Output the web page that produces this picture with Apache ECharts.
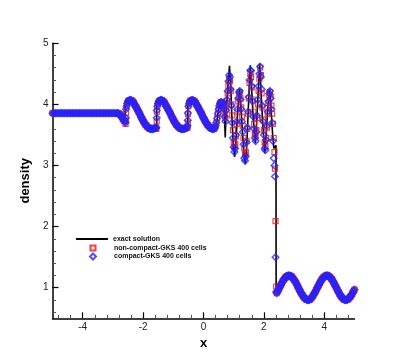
<!DOCTYPE html>
<html lang="en">
<head>
    <meta charset="UTF-8">
    <title>density</title>
    <script src="https://cdn.jsdelivr.net/npm/echarts@6/dist/echarts.min.js"></script>
    <style>
        html, body { margin: 0; padding: 0; background: #fff; }
        #main { width: 403px; height: 358px; }
    </style>
</head>
<body>
<div id="main"></div>
<script>
    // tick positions
    var xMajor = [-4, -2, 0, 2, 4];
    var xMinor = [-4.8, -4.4, -3.6, -3.2, -2.8, -2.4, -1.6, -1.2, -0.8, -0.4, 0.4, 0.8, 1.2, 1.6, 2.4, 2.8, 3.2, 3.6, 4.4, 4.8];
    var yMajor = [1, 2, 3, 4, 5];
    var yMinor = [0.6, 0.8, 1.2, 1.4, 1.6, 1.8, 2.2, 2.4, 2.6, 2.8, 3.2, 3.4, 3.6, 3.8, 4.2, 4.4, 4.6, 4.8];

    // smooth cells, the two schemes look the same here
    var bandConst = [
        [-5, 3.857], [-4.95, 3.857], [-4.9, 3.857], [-4.85, 3.857], [-4.8, 3.857], [-4.75, 3.857], [-4.7, 3.857], [-4.65, 3.857],
        [-4.6, 3.857], [-4.55, 3.857], [-4.5, 3.857], [-4.45, 3.857], [-4.4, 3.857], [-4.35, 3.857], [-4.3, 3.857], [-4.25, 3.857],
        [-4.2, 3.857], [-4.15, 3.857], [-4.1, 3.857], [-4.05, 3.857], [-4, 3.857], [-3.95, 3.857], [-3.9, 3.857], [-3.85, 3.857],
        [-3.8, 3.857], [-3.75, 3.857], [-3.7, 3.857], [-3.65, 3.857], [-3.6, 3.857], [-3.55, 3.857], [-3.5, 3.857], [-3.45, 3.857],
        [-3.4, 3.857], [-3.35, 3.857], [-3.3, 3.857], [-3.25, 3.857], [-3.2, 3.857], [-3.15, 3.857], [-3.1, 3.857], [-3.05, 3.857],
        [-3, 3.857], [-2.95, 3.857], [-2.9, 3.857], [-2.85, 3.857],
        [-2.825, 3.855], [-2.8, 3.85], [-2.775, 3.84], [-2.75, 3.83], [-2.725, 3.81], [-2.7, 3.79], [-2.675, 3.77], [-2.65, 3.75],
        [-2.625, 3.73], [-2.6, 3.72]
    ];
    var waveA = [
        [-2.55, 3.97], [-2.525, 4.02], [-2.5, 4.05], [-2.475, 4.06], [-2.45, 4.07], [-2.425, 4.07], [-2.4, 4.07], [-2.375, 4.06],
        [-2.35, 4.05], [-2.325, 4.04], [-2.3, 4.02], [-2.275, 3.99], [-2.25, 3.97], [-2.225, 3.95], [-2.2, 3.93], [-2.175, 3.9],
        [-2.15, 3.88], [-2.125, 3.86], [-2.1, 3.83], [-2.075, 3.8], [-2.05, 3.78], [-2.025, 3.76], [-2, 3.73], [-1.975, 3.71],
        [-1.95, 3.69], [-1.925, 3.67], [-1.9, 3.66], [-1.875, 3.64], [-1.85, 3.63], [-1.825, 3.62], [-1.8, 3.61], [-1.775, 3.6],
        [-1.75, 3.6], [-1.725, 3.6], [-1.7, 3.6], [-1.675, 3.6], [-1.65, 3.6], [-1.625, 3.61], [-1.6, 3.61], [-1.575, 3.62]
    ];
    var waveB = [
        [-1.53, 3.97], [-1.505, 4.02], [-1.48, 4.05], [-1.455, 4.06], [-1.43, 4.07], [-1.405, 4.07], [-1.38, 4.07], [-1.355, 4.06],
        [-1.33, 4.05], [-1.305, 4.04], [-1.28, 4.02], [-1.255, 3.99], [-1.23, 3.97], [-1.205, 3.95], [-1.18, 3.93], [-1.155, 3.9],
        [-1.13, 3.88], [-1.105, 3.86], [-1.08, 3.83], [-1.055, 3.8], [-1.03, 3.78], [-1.005, 3.76], [-0.98, 3.73], [-0.955, 3.71],
        [-0.93, 3.69], [-0.905, 3.67], [-0.88, 3.66], [-0.855, 3.64], [-0.83, 3.63], [-0.805, 3.62], [-0.78, 3.61], [-0.755, 3.6],
        [-0.73, 3.6], [-0.705, 3.6], [-0.68, 3.6], [-0.655, 3.6], [-0.63, 3.6], [-0.605, 3.61], [-0.58, 3.61], [-0.555, 3.62]
    ];
    var waveC = [
        [-0.5, 3.97], [-0.475, 4.02], [-0.45, 4.05], [-0.425, 4.06], [-0.4, 4.07], [-0.375, 4.07], [-0.35, 4.07], [-0.325, 4.06],
        [-0.3, 4.05], [-0.275, 4.04], [-0.25, 4.02], [-0.225, 3.99], [-0.2, 3.97], [-0.175, 3.95], [-0.15, 3.93], [-0.125, 3.9],
        [-0.1, 3.88], [-0.075, 3.86], [-0.05, 3.83], [-0.025, 3.8], [0, 3.78], [0.025, 3.76], [0.05, 3.73], [0.075, 3.71],
        [0.1, 3.69], [0.125, 3.67], [0.15, 3.66], [0.175, 3.64], [0.2, 3.63], [0.225, 3.62], [0.25, 3.61], [0.275, 3.6],
        [0.3, 3.6], [0.325, 3.6], [0.35, 3.6], [0.375, 3.62], [0.4, 3.65], [0.425, 3.7], [0.45, 3.77], [0.475, 3.85],
        [0.5, 3.92], [0.525, 3.98], [0.55, 4.02], [0.575, 4.04]
    ];

    // smooth part behind the shock
    var bandRight = [
        [2.425, 0.91], [2.45, 0.94], [2.475, 0.96], [2.5, 0.99], [2.525, 1.01], [2.55, 1.04], [2.575, 1.06], [2.6, 1.08],
        [2.625, 1.11], [2.65, 1.13], [2.675, 1.14], [2.7, 1.16], [2.725, 1.17], [2.75, 1.19], [2.775, 1.19], [2.8, 1.2],
        [2.825, 1.2], [2.85, 1.2], [2.875, 1.19], [2.9, 1.19], [2.925, 1.18], [2.95, 1.16], [2.975, 1.15], [3, 1.13],
        [3.025, 1.11], [3.05, 1.09], [3.075, 1.07], [3.1, 1.04], [3.125, 1.02], [3.15, 0.99], [3.175, 0.97], [3.2, 0.94],
        [3.225, 0.92], [3.25, 0.9], [3.275, 0.88], [3.3, 0.86], [3.325, 0.84], [3.35, 0.83], [3.375, 0.82], [3.4, 0.81],
        [3.425, 0.8], [3.45, 0.8], [3.475, 0.8], [3.5, 0.8], [3.525, 0.81], [3.55, 0.82], [3.575, 0.83], [3.6, 0.85],
        [3.625, 0.87], [3.65, 0.89], [3.675, 0.91], [3.7, 0.93], [3.725, 0.96], [3.75, 0.98], [3.775, 1.01], [3.8, 1.03],
        [3.825, 1.05], [3.85, 1.08], [3.875, 1.1], [3.9, 1.12], [3.925, 1.14], [3.95, 1.16], [3.975, 1.17], [4, 1.18],
        [4.025, 1.19], [4.05, 1.2], [4.075, 1.2], [4.1, 1.2], [4.125, 1.2], [4.15, 1.19], [4.175, 1.18], [4.2, 1.17],
        [4.225, 1.15], [4.25, 1.14], [4.275, 1.12], [4.3, 1.09], [4.325, 1.07], [4.35, 1.05], [4.375, 1.02], [4.4, 1],
        [4.425, 0.97], [4.45, 0.95], [4.475, 0.93], [4.5, 0.9], [4.525, 0.88], [4.55, 0.86], [4.575, 0.85], [4.6, 0.83],
        [4.625, 0.82], [4.65, 0.81], [4.675, 0.8], [4.7, 0.8], [4.725, 0.8], [4.75, 0.8], [4.775, 0.81], [4.8, 0.82],
        [4.825, 0.83], [4.85, 0.85], [4.875, 0.86], [4.9, 0.88], [4.925, 0.9], [4.95, 0.93], [4.975, 0.95], [5, 0.97]
    ];

    // exact solution
    var exactLeft = [
        [-5, 3.857], [-2.82, 3.857], [-2.75, 3.83], [-2.68, 3.77], [-2.62, 3.72], [-2.57, 3.7], [-2.57, 4.03], [-2.52, 4.06],
        [-2.42, 4.07], [-2.32, 4.03], [-2.17, 3.92], [-2.02, 3.8], [-1.87, 3.68], [-1.75, 3.61], [-1.62, 3.59], [-1.55, 3.59],
        [-1.55, 4.03], [-1.5, 4.06], [-1.4, 4.07], [-1.3, 4.03], [-1.15, 3.92], [-1, 3.8], [-0.85, 3.68], [-0.73, 3.61],
        [-0.6, 3.59], [-0.52, 3.59], [-0.52, 4.03], [-0.47, 4.06], [-0.37, 4.07], [-0.27, 4.03], [-0.12, 3.92], [0.03, 3.8],
        [0.18, 3.68], [0.3, 3.61], [0.39, 3.6], [0.45, 3.75], [0.5, 3.92], [0.55, 4.03]
    ];
    var exactOsc = [
        [0.58, 4.04], [0.64, 4.02], [0.68, 3.96], [0.7, 3.75], [0.72, 3.46], [0.74, 3.75], [0.77, 4.02], [0.81, 4.3],
        [0.86, 4.63], [0.9, 4.3], [0.94, 3.8], [0.98, 3.4], [1.03, 3.14], [1.07, 3.35], [1.12, 3.8], [1.19, 4.26],
        [1.24, 3.95], [1.29, 3.55], [1.34, 3.2], [1.39, 3.02], [1.44, 3.4], [1.49, 4], [1.55, 4.64], [1.6, 4.2],
        [1.65, 3.75], [1.72, 3.37], [1.76, 3.7], [1.81, 4.2], [1.86, 4.67], [1.91, 4.15], [1.96, 3.7], [2.03, 3.2],
        [2.08, 3.55], [2.13, 3.95], [2.19, 4.26], [2.24, 3.9], [2.29, 3.5], [2.33, 3.28], [2.37, 3.3], [2.4, 3.33],
        [2.405, 0.93]
    ];

    // non-compact GKS, cells at the jumps and in the oscillating zone
    var nonCompactJumps = [
        [-2.58, 3.68], [-2.57, 3.74], [-2.565, 3.86], [-1.56, 3.6], [-1.55, 3.72], [-1.545, 3.88],
        [-0.53, 3.62], [-0.52, 3.7], [-0.515, 3.84]
    ];
    var nonCompactOsc = [
        [0.6, 4.02], [0.625, 4.03], [0.65, 3.99], [0.675, 3.95], [0.7, 3.85], [0.725, 3.78], [0.75, 3.92], [0.775, 4.05],
        [0.8, 4.18], [0.825, 4.3], [0.85, 4.4], [0.875, 4.38], [0.9, 4.22], [0.925, 4], [0.95, 3.82], [0.975, 3.58],
        [1, 3.38], [1.025, 3.3], [1.05, 3.35], [1.075, 3.48], [1.1, 3.68], [1.125, 3.88], [1.15, 4.05], [1.175, 4.15],
        [1.2, 4.2], [1.225, 4.1], [1.25, 3.95], [1.275, 3.8], [1.3, 3.65], [1.325, 3.45], [1.35, 3.28], [1.375, 3.18],
        [1.4, 3.22], [1.425, 3.4], [1.45, 3.6], [1.475, 3.85], [1.5, 4.1], [1.525, 4.35], [1.55, 4.5], [1.575, 4.45],
        [1.6, 4.28], [1.625, 4.08], [1.65, 3.88], [1.675, 3.68], [1.7, 3.52], [1.725, 3.48], [1.75, 3.58], [1.775, 3.78],
        [1.8, 4], [1.825, 4.22], [1.85, 4.42], [1.875, 4.6], [1.9, 4.48], [1.925, 4.18], [1.95, 3.95], [1.975, 3.75],
        [2, 3.58], [2.025, 3.38], [2.05, 3.32], [2.075, 3.45], [2.1, 3.62], [2.125, 3.85], [2.15, 4.02], [2.175, 4.15],
        [2.2, 4.2], [2.225, 4.12], [2.25, 3.98], [2.275, 3.85], [2.3, 3.68], [2.325, 3.45], [2.35, 3.22], [2.365, 2.95],
        [2.385, 2.09], [2.405, 1.02]
    ];

    // compact GKS
    var compactJumps = [
        [-2.58, 3.7], [-2.57, 3.78], [-2.565, 3.92], [-1.56, 3.62], [-1.55, 3.78], [-1.545, 3.9],
        [-0.53, 3.65], [-0.52, 3.74], [-0.515, 3.86]
    ];
    var compactOsc = [
        [0.6, 4.03], [0.625, 4.02], [0.65, 3.98], [0.675, 3.92], [0.7, 3.8], [0.725, 3.72], [0.75, 3.9], [0.775, 4.08],
        [0.8, 4.22], [0.825, 4.38], [0.85, 4.48], [0.875, 4.45], [0.9, 4.25], [0.925, 3.98], [0.95, 3.7], [0.975, 3.45],
        [1, 3.3], [1.025, 3.22], [1.05, 3.28], [1.075, 3.5], [1.1, 3.72], [1.125, 3.92], [1.15, 4.1], [1.175, 4.2],
        [1.2, 4.22], [1.225, 4.08], [1.25, 3.92], [1.275, 3.72], [1.3, 3.55], [1.325, 3.35], [1.35, 3.12], [1.375, 3.08],
        [1.4, 3.15], [1.425, 3.38], [1.45, 3.62], [1.475, 3.88], [1.5, 4.12], [1.525, 4.4], [1.55, 4.56], [1.575, 4.55],
        [1.6, 4.3], [1.625, 4.05], [1.65, 3.8], [1.675, 3.6], [1.7, 3.45], [1.725, 3.4], [1.75, 3.55], [1.775, 3.82],
        [1.8, 4.08], [1.825, 4.3], [1.85, 4.5], [1.875, 4.62], [1.9, 4.45], [1.925, 4.25], [1.95, 3.98], [1.975, 3.72],
        [2, 3.5], [2.025, 3.28], [2.05, 3.25], [2.075, 3.42], [2.1, 3.65], [2.125, 3.88], [2.15, 4.05], [2.175, 4.18],
        [2.2, 4.22], [2.225, 4.1], [2.25, 3.92], [2.275, 3.7], [2.3, 3.4], [2.325, 3.12], [2.35, 3], [2.365, 2.82],
        [2.385, 1.5], [2.405, 0.93]
    ];

    var font = 'Liberation Sans, Arial, Helvetica, sans-serif';
    var myChart = echarts.init(document.getElementById('main'), null, {renderer: 'canvas'});

    function majorAxis(min, max, ticks, name, gap) {
        return {
            type: 'value', min: min, max: max,
            name: name, nameLocation: 'middle', nameGap: gap,
            nameTextStyle: {fontFamily: font, fontSize: 13, fontWeight: 'bold', color: '#000'},
            axisLine: {show: true, onZero: false, lineStyle: {color: '#000', width: 1.5}},
            axisTick: {show: true, inside: true, length: 6, customValues: ticks, lineStyle: {color: '#000', width: 1.2}},
            axisLabel: {show: true, customValues: ticks, margin: 4, fontFamily: font, fontSize: 10, color: '#222'},
            splitLine: {show: false}
        };
    }
    function minorAxis(min, max, ticks, pos) {
        return {
            type: 'value', min: min, max: max, position: pos,
            axisLine: {show: false, onZero: false},
            axisTick: {show: true, inside: true, length: 3.5, customValues: ticks, lineStyle: {color: '#555', width: 1}},
            axisLabel: {show: false},
            splitLine: {show: false}
        };
    }

    var xa = majorAxis(-5, 5, xMajor, 'x', 4);
    xa.position = 'bottom';
    var ya = majorAxis(0.5, 5, yMajor, 'density', 20);
    ya.position = 'left';

    var legendText = {fontFamily: font, fontSize: 7, fontWeight: 'bold', color: '#111', lineHeight: 7};
    var bandLeft = bandConst.concat(waveA, waveB, waveC);

    var option = {
        animation: false,
        backgroundColor: '#fff',
        grid: {left: 52.5, right: 48.5, top: 43.3, bottom: 39.7},
        legend: [
            {
                left: 76, top: 235.5, padding: 0, selectedMode: false,
                itemWidth: 32, itemHeight: 2,
                icon: 'rect',
                textStyle: legendText,
                data: ['exact solution']
            },
            {
                left: 89.5, top: 244.5, padding: 0, selectedMode: false,
                itemWidth: 5, itemHeight: 5,
                textStyle: Object.assign({padding: [0, 0, 0, 13.5]}, legendText),
                data: ['non-compact-GKS 400 cells']
            },
            {
                left: 89, top: 252.5, padding: 0, selectedMode: false,
                itemWidth: 6, itemHeight: 6,
                textStyle: Object.assign({padding: [0, 0, 0, 13]}, legendText),
                data: ['compact-GKS 400 cells']
            }
        ],
        xAxis: [xa, minorAxis(-5, 5, xMinor, 'bottom')],
        yAxis: [ya, minorAxis(0.5, 5, yMinor, 'left')],
        series: [
            {
                name: 'exact solution', type: 'line',
                data: exactLeft.concat(exactOsc, bandRight),
                symbol: 'none', z: 1,
                itemStyle: {color: '#000'},
                lineStyle: {color: '#000', width: 1.6}
            },
            {
                name: 'non-compact-GKS 400 cells', type: 'scatter',
                data: bandLeft.concat(nonCompactJumps, nonCompactOsc, bandRight),
                symbol: 'rect', symbolSize: 5, z: 2,
                itemStyle: {color: 'rgba(255,255,255,0)', borderColor: '#f01010', borderWidth: 1.2}
            },
            {
                name: 'compact-GKS 400 cells', type: 'scatter',
                data: bandLeft.concat(compactJumps, compactOsc, bandRight),
                symbol: 'diamond', symbolSize: 6.5, z: 3,
                itemStyle: {color: 'rgba(255,255,255,0)', borderColor: '#2424ff', borderWidth: 1.5}
            }
        ]
    };

    myChart.setOption(option);
</script>
</body>
</html>
